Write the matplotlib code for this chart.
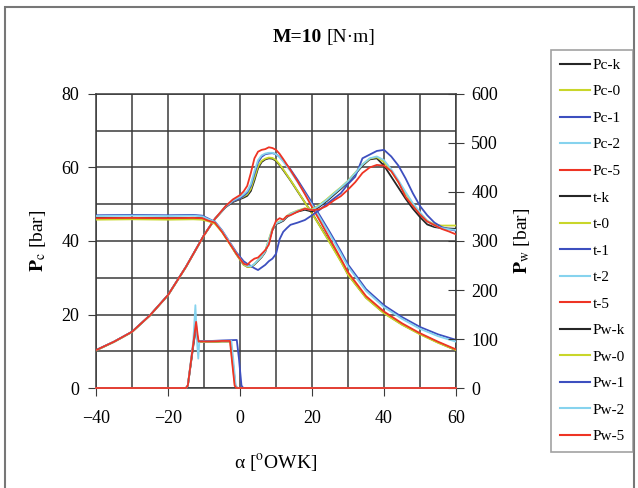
import numpy as np
import matplotlib
matplotlib.use("Agg")
import matplotlib.pyplot as plt
from matplotlib.lines import Line2D
from matplotlib.patches import Rectangle

plt.rcParams['font.family'] = ['Liberation Serif', 'DejaVu Serif']
plt.rcParams['mathtext.fontset'] = 'stix'

# run colours: k, 0, 1, 2, 5
runs = ["k", "0", "1", "2", "5"]
colors = {"k": "#262626", "0": "#c9d62a", "1": "#3d4fbf", "2": "#86d3ee", "5": "#ee3424"}

# ---- cylinder pressure Pc [bar] (left axis)
a_pc = [-40, -35, -30, -25, -20, -15, -10, -7, -4, -2, 0, 1, 2, 3, 4, 5, 6, 7, 8, 9, 10,
        11, 12, 14, 16, 18, 20, 22, 25, 28, 30, 35, 40, 45, 50, 55, 60]
pc_5 = [10.3, 12.6, 15.3, 19.8, 25.3, 33.0, 41.6, 46.0, 49.5, 51.3, 52.5, 53.5, 55.0, 58.5,
        62.5, 64.3, 64.8, 65.0, 65.5, 65.3, 64.8, 63.7, 62.3, 59.3, 56.2, 52.8, 49.2, 45.8,
        40.5, 35.2, 31.5, 25.0, 20.8, 17.6, 14.9, 12.6, 10.5]
pc_k = [10.3, 12.6, 15.3, 19.8, 25.3, 33.0, 41.6, 46.0, 49.2, 50.6, 51.4, 51.8, 52.3, 53.6,
        56.5, 59.8, 61.5, 62.2, 62.5, 62.4, 61.8, 60.6, 59.3, 56.5, 53.5, 50.5, 47.6, 44.4,
        39.6, 34.6, 30.9, 24.6, 20.4, 17.3, 14.7, 12.4, 10.3]
pc_0 = [10.2, 12.5, 15.2, 19.7, 25.2, 32.9, 41.5, 45.9, 49.3, 50.8, 51.6, 52.1, 52.7, 54.2,
        57.2, 60.3, 61.8, 62.4, 62.7, 62.6, 62.0, 60.8, 59.5, 56.6, 53.6, 50.5, 47.5, 44.3,
        39.4, 34.4, 30.8, 24.5, 20.3, 17.2, 14.6, 12.3, 10.3]
pc_2 = [10.3, 12.6, 15.3, 19.8, 25.3, 33.0, 41.6, 46.0, 49.4, 51.0, 52.0, 52.7, 53.6, 55.5,
        59.0, 62.0, 63.3, 63.8, 64.0, 64.0, 63.6, 62.8, 61.6, 59.0, 56.0, 52.9, 49.8, 46.6,
        41.7, 36.6, 33.0, 26.4, 22.0, 18.8, 16.1, 14.1, 12.6]
pc_1 = [10.3, 12.6, 15.3, 19.8, 25.3, 33.0, 41.6, 46.0, 49.3, 50.8, 51.6, 52.3, 53.2, 55.0,
        58.3, 61.4, 62.9, 63.6, 63.8, 63.9, 63.6, 62.9, 61.9, 59.5, 56.6, 53.5, 50.4, 47.2,
        42.3, 37.2, 33.6, 26.9, 22.5, 19.3, 16.6, 14.6, 13.1]

# ---- t curves (left axis scale)
a_t = [-40, -30, -20, -13, -10.5, -9, -8, -7, -5, -3, -1, 1, 2, 3, 4, 5, 6, 7, 8, 9, 10,
       11, 12, 13, 14, 16, 18, 20, 22, 24, 26, 28, 30, 32, 34, 36, 38, 40, 42, 44, 46, 48,
       50, 52, 54, 56, 58, 60]
t_5 = [46.2, 46.3, 46.2, 46.3, 46.2, 45.6, 45.3, 45.0, 42.5, 39.5, 36.5, 33.8, 33.5, 34.5,
       35.2, 35.5, 36.5, 37.5, 39.0, 43.0, 45.5, 46.2, 45.8, 46.8, 47.0, 48.0, 48.8, 48.4,
       48.6, 49.5, 51.0, 52.2, 54.0, 56.0, 58.5, 60.0, 60.7, 60.5, 59.0, 56.0, 52.0, 49.5,
       47.2, 45.3, 44.3, 43.3, 42.6, 41.8]
t_k = [46.3, 46.3, 46.2, 46.3, 46.2, 45.7, 45.4, 45.0, 42.6, 39.6, 36.4, 33.6, 33.0, 32.9,
       33.6, 34.6, 35.6, 37.0, 40.0, 43.0, 44.6, 45.0, 45.5, 46.5, 47.2, 48.0, 48.5, 48.0,
       49.3, 50.8, 52.5, 54.2, 56.0, 58.2, 60.5, 62.2, 62.5, 60.5, 57.5, 54.5, 51.5, 48.8,
       46.5, 44.5, 43.8, 43.5, 43.4, 43.3]
t_0 = [45.8, 45.9, 45.8, 45.9, 45.8, 45.4, 45.1, 44.7, 42.4, 39.4, 36.3, 33.5, 33.0, 32.9,
       33.7, 34.8, 35.8, 37.3, 40.4, 43.4, 44.9, 45.3, 45.8, 46.8, 47.5, 48.3, 48.9, 48.6,
       49.8, 51.3, 53.0, 54.6, 56.4, 58.6, 60.8, 62.4, 62.8, 61.5, 59.0, 56.0, 53.0, 50.0,
       47.5, 45.5, 44.5, 44.2, 44.2, 44.2]
t_2 = [46.8, 46.9, 46.8, 46.9, 46.7, 46.0, 45.6, 45.2, 42.8, 39.8, 36.6, 33.8, 33.2, 33.1,
       33.8, 34.8, 35.8, 37.2, 40.2, 43.2, 44.8, 45.2, 45.7, 46.7, 47.4, 48.2, 48.8, 48.4,
       49.6, 51.1, 52.8, 54.5, 56.3, 58.5, 60.8, 62.5, 63.0, 62.0, 59.5, 56.5, 53.3, 50.3,
       47.8, 45.5, 44.2, 43.5, 43.2, 43.0]
t_1 = [47.0, 47.1, 47.0, 47.1, 46.9, 46.2, 45.7, 45.3, 42.9, 39.9, 36.9, 34.5, 33.8, 33.2,
       32.6, 32.1, 32.8, 33.5, 34.5, 35.2, 36.5, 40.5, 42.5, 43.5, 44.4, 45.0, 45.7, 47.0,
       48.4, 50.0, 51.5, 53.0, 55.5, 57.5, 62.5, 63.5, 64.5, 64.8, 63.0, 60.5, 57.0, 53.0,
       49.5, 47.0, 45.0, 43.8, 43.2, 42.8]

# ---- injection pressure Pw [bar] (right axis)
a_pw_5 = [-40, -15.0, -14.5, -13.0, -12.2, -11.8, -11.5, -8.0, -5.0, -2.8, -2.3, -1.5, -1.0, 60]
pw_5 = [0, 0, 5, 90, 135, 110, 95, 95, 96, 96, 60, 5, 0, 0]
a_pw_k = [-40, -15.0, -14.5, -13.0, -12.3, -11.8, -11.5, -8.0, -5.0, -2.6, -2.1, -1.3, -0.8, 60]
pw_k = [0, 0, 5, 85, 120, 100, 94, 94, 95, 95, 60, 5, 0, 0]
a_pw_0 = [-40, -15.0, -14.5, -13.0, -12.3, -11.8, -11.5, -8.0, -5.0, -2.7, -2.2, -1.4, -0.9, 60]
pw_0 = [0, 0, 5, 88, 125, 100, 94, 94, 95, 95, 60, 5, 0, 0]
a_pw_2 = [-40, -15.0, -14.5, -13.0, -12.4, -11.9, -11.6, -11.3, -8.0, -5.0, -2.4, -1.9, -1.2, -0.7, 60]
pw_2 = [0, 0, 5, 95, 169, 90, 60, 95, 95, 96, 96, 60, 5, 0, 0]
a_pw_1 = [-40, -15.0, -14.5, -13.0, -12.2, -11.8, -11.5, -8.0, -5.0, -0.9, -0.3, 0.4, 0.9, 60]
pw_1 = [0, 0, 5, 88, 128, 100, 96, 96, 97, 98, 60, 5, 0, 0]

pc = {"k": pc_k, "0": pc_0, "1": pc_1, "2": pc_2, "5": pc_5}
t = {"k": t_k, "0": t_0, "1": t_1, "2": t_2, "5": t_5}
pw = {"k": (a_pw_k, pw_k), "0": (a_pw_0, pw_0), "1": (a_pw_1, pw_1),
      "2": (a_pw_2, pw_2), "5": (a_pw_5, pw_5)}

fig = plt.figure(figsize=(6.38, 4.88), dpi=100)
ax = fig.add_axes([0.1505, 0.2049, 0.5643, 0.6025])
ax2 = ax.twinx()

lw = 1.3
for r in runs:
    ax.plot(a_pc, pc[r], color=colors[r], lw=lw, zorder=3)
for r in runs:
    ax.plot(a_t, t[r], color=colors[r], lw=lw, zorder=3)
for r in runs:
    ax2.plot(pw[r][0], pw[r][1], color=colors[r], lw=lw, clip_on=False)

ax.set_xlim(-40, 60)
ax.set_ylim(0, 80)
ax2.set_ylim(0, 600)
ax.set_xticks(np.arange(-40, 61, 20))
ax.set_xticks(np.arange(-40, 61, 10), minor=True)
ax.set_yticks(np.arange(0, 81, 20))
ax.set_yticks(np.arange(0, 81, 10), minor=True)
ax2.set_yticks(np.arange(0, 601, 100))

grid_c = "#3a3a3a"
ax.grid(True, which='both', color=grid_c, lw=1.1)
ax.set_axisbelow(True)
for sp in ["left", "right", "top", "bottom"]:
    ax.spines[sp].set_color(grid_c)
    ax.spines[sp].set_linewidth(1.1)
    ax2.spines[sp].set_visible(False)

ax.tick_params(axis='x', which='major', labelsize=13, direction='out', length=6,
               color=grid_c, pad=10)
ax.tick_params(axis='y', which='major', labelsize=13, direction='out', length=6,
               color=grid_c, pad=6)
ax.tick_params(axis='both', which='minor', length=0)
ax2.tick_params(axis='y', labelsize=13, direction='inout', length=12, color=grid_c, pad=5)

ax.set_xlabel(r"α [$^{\rm o}$OWK]", fontsize=14, labelpad=18)
ax.set_ylabel(r"$\mathbf{P}_{\rm c}$ [bar]", fontsize=14, labelpad=10)
ax2.set_ylabel(r"$\mathbf{P}_{\rm w}$ [bar]", fontsize=14, labelpad=10)

fig.text(0.428, 0.923, "M=10", fontsize=14, fontweight='bold', ha='left', va='center')
fig.text(0.512, 0.923, "[N·m]", fontsize=14, ha='left', va='center')

# legend entries
handles = []
labels = []
for group in ["Pc", "t", "Pw"]:
    for r in runs:
        handles.append(Line2D([], [], color=colors[r], lw=1.5))
        labels.append(f"{group}-{r}")
leg = fig.legend(handles, labels, loc='upper left', bbox_to_anchor=(0.864, 0.898),
                 fontsize=11, frameon=True, fancybox=False, edgecolor="#8a8a8a",
                 handlelength=2.0, handletextpad=0.15, labelspacing=0.84,
                 borderpad=0.55, borderaxespad=0)
leg.get_frame().set_linewidth(1.2)

# outer frame around the figure
fig.patches.append(Rectangle((0.008, -0.05), 0.986, 1.035, transform=fig.transFigure,
                             fill=False, edgecolor="#777777", lw=1.5))

fig.savefig("out.png", dpi=100)
